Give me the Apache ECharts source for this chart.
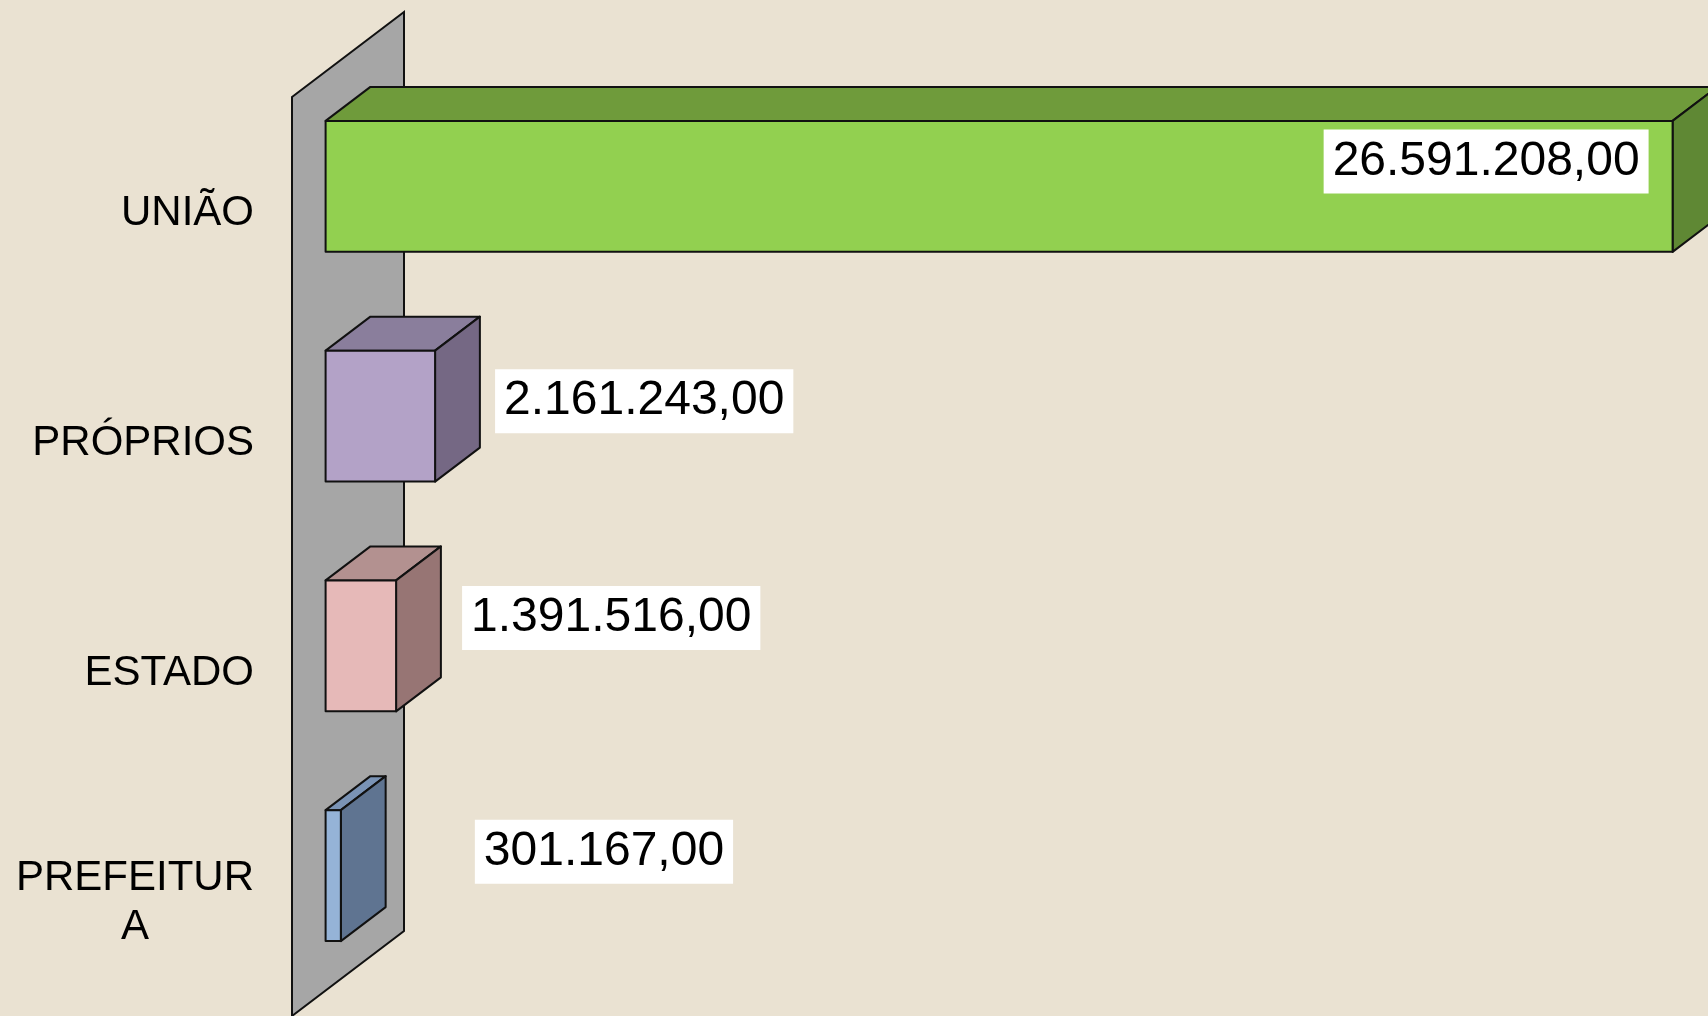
<!DOCTYPE html>
<html>
<head>
<meta charset="utf-8">
<title>Receitas por origem</title>
<script src="https://cdn.jsdelivr.net/npm/echarts@6/dist/echarts.min.js"></script>
<style>
  html, body { margin: 0; padding: 0; background: #EAE2D2; }
  #grafico { width: 1708px; height: 1016px; }
</style>
</head>
<body>
<div id="grafico"></div>
<script>
// dados
var categorias = ['UNIÃO', 'PRÓPRIOS', 'ESTADO', 'PREFEITURA']
var valores = [26591208.0, 2161243.0, 1391516.0, 301167.0]

// cores de cada barra: frente, topo, lateral
var coresFrente = ['#92D050', '#B3A2C7', '#E6B9B8', '#95B3D7']
var coresTopo = ['#6F9B3B', '#8A7E9C', '#B39190', '#7A93B5']
var coresLado = ['#5F8834', '#756884', '#977574', '#5F7491']

// posicao do rotulo de cada barra (alinhamento, dx a partir do fim da barra, dy a partir do centro)
var posRotulos = [['right', -24, -25], ['left', 60, -15], ['left', 66, -28], ['left', 134, -24]]

// profundidade do "piso" 3d e fatia ocupada pelas barras
var PROF_X = 112
var PROF_Y = -85
var BARRA_D0 = 0.3
var BARRA_D1 = 0.7
var CONTORNO = '#111'

function formataBR(v) {
    var partes = v.toFixed(2).split('.')
    var inteiro = partes[0].replace(/\B(?=(\d{3})+(?!\d))/g, '.')
    return inteiro + ',' + partes[1]
}

function desenhaParede(params, api) {
    var cs = params.coordSys
    return {
        type: 'polygon',
        shape: {
            points: [
                [cs.x, cs.y],
                [cs.x + PROF_X, cs.y + PROF_Y],
                [cs.x + PROF_X, cs.y + cs.height + PROF_Y],
                [cs.x, cs.y + cs.height],
            ],
        },
        style: { fill: '#A6A6A6', stroke: CONTORNO, lineWidth: 2 },
    }
}

function desenhaBarra(params, api) {
    var i = api.value(1)
    var v = api.value(0)
    var p0 = api.coord([0, i])
    var p1 = api.coord([v, i])
    var h = api.size([0, 1])[1] * 0.57
    var fx = PROF_X * BARRA_D0,
        fy = PROF_Y * BARRA_D0
    var dx = PROF_X * (BARRA_D1 - BARRA_D0),
        dy = PROF_Y * (BARRA_D1 - BARRA_D0)
    var xa = p0[0] + fx,
        xb = p1[0] + fx
    var yc = p0[1] + fy
    var yt = yc - h / 2,
        yb = yc + h / 2
    var estilo = { stroke: CONTORNO, lineWidth: 2, lineJoin: 'round' }
    var pos = posRotulos[i]
    return {
        type: 'group',
        children: [
            {
                type: 'polygon',
                shape: { points: [[xa, yt], [xa + dx, yt + dy], [xb + dx, yt + dy], [xb, yt]] },
                style: Object.assign({ fill: coresTopo[i] }, estilo),
            },
            {
                type: 'polygon',
                shape: { points: [[xb, yt], [xb + dx, yt + dy], [xb + dx, yb + dy], [xb, yb]] },
                style: Object.assign({ fill: coresLado[i] }, estilo),
            },
            {
                type: 'rect',
                shape: { x: xa, y: yt, width: xb - xa, height: h },
                style: Object.assign({ fill: coresFrente[i] }, estilo),
            },
            {
                type: 'text',
                x: xb + pos[1],
                y: yc + pos[2],
                style: {
                    text: formataBR(v),
                    font: '48px "Liberation Sans", Arial, sans-serif',
                    fill: '#000',
                    align: pos[0],
                    verticalAlign: 'middle',
                    lineHeight: 54,
                    backgroundColor: '#FFFFFF',
                    padding: [5, 9, 5, 9],
                },
            },
        ],
    }
}

var grafico = echarts.init(document.getElementById('grafico'))
var dadosBarras = valores.map(function (v, i) {
    return [v, i]
})

var opcao = {
    backgroundColor: '#EAE2D2',
    animation: false,
    grid: {
        left: 292,
        right: 69,
        top: 97,
        bottom: -1,
        containLabel: false,
    },
    xAxis: {
        type: 'value',
        min: 0,
        max: Math.max.apply(null, valores),
        show: false,
    },
    yAxis: {
        type: 'category',
        inverse: true,
        data: categorias,
        axisLine: { show: false },
        axisTick: { show: false },
        splitLine: { show: false },
        axisLabel: {
            margin: 38,
            color: '#000',
            fontSize: 42,
            fontFamily: '"Liberation Sans", Arial, sans-serif',
            lineHeight: 49,
            padding: [4, 0, 0, 0],
            formatter: function (nome) {
                // o rotulo longo quebra em duas linhas como no original
                if (nome === 'PREFEITURA') return '{a|PREFEITUR}\n{b|A}'
                return nome
            },
            rich: {
                a: { fontSize: 42, lineHeight: 49, color: '#000', fontFamily: '"Liberation Sans", Arial, sans-serif' },
                b: { fontSize: 42, lineHeight: 49, color: '#000', width: 238, align: 'center', fontFamily: '"Liberation Sans", Arial, sans-serif' },
            },
        },
    },
    series: [
        {
            type: 'custom',
            renderItem: desenhaParede,
            data: [[0, 0]],
            encode: { x: 0, y: 1 },
            silent: true,
            z: 1,
        },
        {
            type: 'custom',
            renderItem: desenhaBarra,
            data: dadosBarras,
            encode: { x: 0, y: 1 },
            z: 2,
        },
    ],
}
grafico.setOption(opcao)
</script>
</body>
</html>
